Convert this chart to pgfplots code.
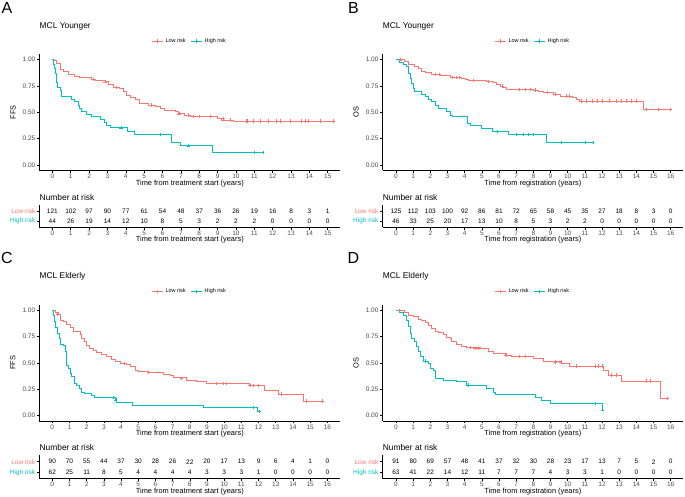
\documentclass[border=0pt]{standalone}
\usepackage{pgfplots}
\pgfplotsset{compat=1.18}
\usepackage{fontspec}
\setmainfont{Liberation Sans}
\definecolor{lowr}{HTML}{F8766D}
\definecolor{highr}{HTML}{00BFC4}
\definecolor{tickgray}{HTML}{4D4D4D}
\newcommand\fs[1]{\fontsize{#1}{#1}\selectfont}

\pgfplotsset{
  base/.style={scale only axis, anchor=south west,
    axis x line*=bottom, axis y line*=left,
    axis line style={line width=0.6pt},
    major tick style={line width=0.6pt, black},
    tick align=outside, major tick length=2.5pt,
    ticklabel style={font=\fs{6.5}, text=tickgray},
    /pgf/number format/assume math mode=true,
    xtick={0,...,16},
    xticklabel style={inner sep=1pt},
    yticklabel style={inner sep=1.5pt},
    xlabel style={font=\fs{7.4}, at={(axis description cs:0.5,0)}, anchor=center, yshift=-13pt},
    title style={font=\fs{8.4}, at={(axis description cs:0,1)}, anchor=west, inner sep=0pt},
  },
  km/.style={base, height=115.8pt, ymin=-0.05, ymax=1.05,
    ytick={0,0.25,0.5,0.75,1}, yticklabels={0.00,0.25,0.50,0.75,1.00},
    title style={yshift=22.5pt},
    ylabel style={font=\fs{7.4}, at={(axis description cs:-0.088,0.5)}, anchor=center},
    legend columns=2,
    legend style={draw=none, fill=none, font=\fs{5.5}, at={(axis description cs:0.5,1)},
      anchor=center, yshift=13.4pt, /tikz/every even column/.append style={column sep=3pt}},
    legend image code/.code={\draw[mark repeat=2,mark phase=2,##1] plot coordinates {(0pt,0pt) (5.5pt,0pt) (11pt,0pt)};},
  },
  risk/.style={base, ymin=0.4, ymax=2.6, ytick={1,2},
    yticklabels={\textcolor{highr}{High risk},\textcolor{lowr}{Low risk}},
    title={Number at risk}, title style={yshift=2.3pt},
    xlabel style={yshift=0.5pt},
  },
  step/.style={const plot, line width=0.9pt, mark=none},
  cens/.style={only marks, mark=+, mark size=1.6pt, line width=0.5pt},
  nar/.style={only marks, mark=none, point meta=explicit symbolic, nodes near coords,
    nodes near coords align={center},
    every node near coord/.append style={font=\fs{6.5}, text=black}},
  lowleg/.style={draw=lowr, color=lowr, line width=0.9pt, mark=+, mark size=1.6pt},
  highleg/.style={draw=highr, color=highr, line width=0.9pt, mark=+, mark size=1.6pt},
}

\begin{document}
\begin{tikzpicture}
\node[font=\fs{16}] at (7pt,487.7pt) {A};
\node[font=\fs{16}] at (353.5pt,487.7pt) {B};
\node[font=\fs{16}] at (7pt,238pt) {C};
\node[font=\fs{16}] at (353.5pt,238pt) {D};

% ---------------- A
\begin{axis}[km, at={(39.5pt,325.7pt)}, width=300.6pt, xmin=-0.7, xmax=15.67,
  title={MCL Younger}, xlabel={Time from treatment start (years)}, ylabel={FFS}]
\addlegendimage{lowleg}
\addlegendentry{Low risk}
\addlegendimage{highleg}
\addlegendentry{High risk}
\addplot[step, lowr, forget plot] coordinates {(0,1.0) (0.1,0.99) (0.24,0.965) (0.42,0.91) (0.6,0.886) (0.87,0.86) (1.23,0.845) (1.5,0.83) (2.14,0.816) (2.32,0.80) (2.87,0.79) (3.05,0.77) (3.32,0.737) (3.68,0.728) (3.87,0.696) (4.05,0.665) (4.23,0.64) (4.5,0.623) (4.77,0.585) (5.23,0.57) (5.59,0.554) (5.86,0.538) (6.13,0.519) (6.68,0.506) (6.86,0.487) (7.22,0.475) (7.5,0.459) (9.0,0.443) (9.22,0.427) (9.85,0.418) (15.31,0.418)};
\addplot[step, highr, forget plot] coordinates {(0,1.0) (0.05,0.96) (0.11,0.92) (0.15,0.87) (0.2,0.82) (0.25,0.78) (0.29,0.74) (0.42,0.71) (0.51,0.655) (1.05,0.623) (1.23,0.60) (1.42,0.57) (1.5,0.538) (1.6,0.506) (1.87,0.48) (2.14,0.459) (2.6,0.434) (2.83,0.40) (2.96,0.38) (3.14,0.354) (4.1,0.323) (4.46,0.29) (6.5,0.212) (6.95,0.183) (8.73,0.12) (11.46,0.12)};
\addplot[cens, lowr, forget plot] coordinates {(2.23,0.816) (2.87,0.79) (3.5,0.737) (5.4,0.57) (6.9,0.487) (7.4,0.475) (7.7,0.459) (8.0,0.459) (8.59,0.459) (9.31,0.443) (9.67,0.427) (10.55,0.418) (10.62,0.418) (10.95,0.418) (11.31,0.418) (11.76,0.418) (12.18,0.418) (12.4,0.418) (12.94,0.418) (13.58,0.418) (13.76,0.418) (13.94,0.418) (14.58,0.418) (15.31,0.418)};
\addplot[cens, highr, forget plot] coordinates {(3.74,0.354) (5.86,0.29) (7.4,0.183) (11.0,0.12) (11.46,0.12)};
\end{axis}
\begin{axis}[risk, at={(39.5pt,268.7pt)}, width=300.6pt, height=22pt, xmin=-0.7, xmax=15.67,
  xlabel={Time from treatment start (years)}]
\addplot[nar] coordinates {(0,2)[121] (1,2)[102] (2,2)[97] (3,2)[90] (4,2)[77] (5,2)[61] (6,2)[54] (7,2)[48] (8,2)[37] (9,2)[36] (10,2)[26] (11,2)[19] (12,2)[16] (13,2)[8] (14,2)[3] (15,2)[1]};
\addplot[nar] coordinates {(0,1)[44] (1,1)[26] (2,1)[19] (3,1)[14] (4,1)[12] (5,1)[10] (6,1)[8] (7,1)[5] (8,1)[3] (9,1)[2] (10,1)[2] (11,1)[2] (12,1)[0] (13,1)[0] (14,1)[0] (15,1)[0]};
\end{axis}

% ---------------- B
\begin{axis}[km, at={(382.6pt,325.7pt)}, width=300.5pt, xmin=-0.78, xmax=16.72,
  title={MCL Younger}, xlabel={Time from registration (years)}, ylabel={OS}]
\addlegendimage{lowleg}
\addlegendentry{Low risk}
\addlegendimage{highleg}
\addlegendentry{High risk}
\addplot[step, lowr, forget plot] coordinates {(0,1.0) (0.52,0.98) (0.72,0.956) (1.1,0.94) (1.3,0.918) (1.5,0.886) (1.69,0.877) (2.08,0.861) (2.56,0.854) (3.05,0.848) (3.15,0.832) (3.83,0.823) (4.02,0.813) (4.21,0.804) (5.28,0.797) (5.67,0.78) (5.86,0.766) (6.06,0.75) (6.25,0.734) (6.45,0.72) (8.0,0.712) (8.29,0.70) (8.58,0.69) (9.17,0.674) (9.55,0.655) (10.3,0.642) (10.5,0.623) (10.7,0.608) (14.4,0.53) (15.96,0.53)};
\addplot[step, highr, forget plot] coordinates {(0,1.0) (0.23,0.975) (0.43,0.956) (0.62,0.933) (0.72,0.87) (0.82,0.823) (0.91,0.775) (1.01,0.728) (1.1,0.696) (1.5,0.67) (1.69,0.649) (1.88,0.627) (2.08,0.60) (2.27,0.57) (2.47,0.538) (2.95,0.506) (3.15,0.475) (3.3,0.459) (4.14,0.396) (4.31,0.38) (4.99,0.348) (5.63,0.32) (6.54,0.29) (8.78,0.215) (11.46,0.215)};
\addplot[cens, lowr, forget plot] coordinates {(0.25,1.0) (2.3,0.861) (2.5,0.861) (3.3,0.832) (3.5,0.832) (3.7,0.832) (4.5,0.804) (5.4,0.797) (6.2,0.75) (7.2,0.72) (7.5,0.72) (7.8,0.72) (8.1,0.712) (8.8,0.69) (9.3,0.674) (9.9,0.655) (10.1,0.655) (10.8,0.608) (11.1,0.608) (11.4,0.608) (11.7,0.608) (12.0,0.608) (12.4,0.608) (12.8,0.608) (13.1,0.608) (13.4,0.608) (13.7,0.608) (14.0,0.608) (14.6,0.53) (15.3,0.53) (15.96,0.53)};
\addplot[cens, highr, forget plot] coordinates {(5.9,0.32) (7.0,0.29) (7.4,0.29) (7.7,0.29) (8.0,0.29) (9.65,0.215) (11.0,0.215) (11.46,0.215)};
\end{axis}
\begin{axis}[risk, at={(382.6pt,268.7pt)}, width=300.5pt, height=22pt, xmin=-0.78, xmax=16.72,
  xlabel={Time from registration (years)}]
\addplot[nar] coordinates {(0,2)[125] (1,2)[112] (2,2)[103] (3,2)[100] (4,2)[92] (5,2)[86] (6,2)[81] (7,2)[72] (8,2)[65] (9,2)[58] (10,2)[45] (11,2)[35] (12,2)[27] (13,2)[18] (14,2)[8] (15,2)[3] (16,2)[0]};
\addplot[nar] coordinates {(0,1)[46] (1,1)[33] (2,1)[25] (3,1)[20] (4,1)[17] (5,1)[13] (6,1)[10] (7,1)[8] (8,1)[5] (9,1)[3] (10,1)[2] (11,1)[2] (12,1)[0] (13,1)[0] (14,1)[0] (15,1)[0] (16,1)[0]};
\end{axis}

% ---------------- C
\begin{axis}[km, at={(39.4pt,75.1pt)}, width=300.8pt, xmin=-0.75, xmax=16.75,
  title={MCL Elderly}, xlabel={Time from treatment start (years)}, ylabel={FFS}]
\addlegendimage{lowleg}
\addlegendentry{Low risk}
\addlegendimage{highleg}
\addlegendentry{High risk}
\addplot[step, lowr, forget plot] coordinates {(0,1.0) (0.155,0.98) (0.35,0.962) (0.45,0.908) (0.64,0.892) (0.83,0.867) (1.03,0.835) (1.22,0.804) (1.61,0.772) (1.71,0.734) (1.86,0.703) (2.0,0.665) (2.19,0.639) (2.39,0.617) (2.58,0.60) (2.87,0.582) (3.16,0.56) (3.45,0.538) (3.65,0.519) (3.94,0.497) (4.33,0.487) (4.52,0.465) (4.81,0.434) (5.0,0.424) (5.59,0.411) (6.46,0.392) (6.85,0.38) (7.04,0.36) (7.82,0.339) (8.4,0.323) (8.98,0.307) (11.46,0.285) (12.37,0.244) (13.15,0.206) (14.64,0.139) (15.73,0.139)};
\addplot[step, highr, forget plot] coordinates {(0,1.0) (0.06,0.956) (0.12,0.89) (0.21,0.835) (0.31,0.78) (0.39,0.734) (0.48,0.677) (0.66,0.665) (0.74,0.608) (0.8,0.544) (0.83,0.48) (0.93,0.45) (1.03,0.40) (1.12,0.37) (1.28,0.307) (1.42,0.29) (1.57,0.26) (1.67,0.222) (1.86,0.212) (2.29,0.196) (2.44,0.171) (3.65,0.149) (3.74,0.123) (4.65,0.10) (8.82,0.079) (11.95,0.038) (12.04,0.038)};
\addplot[cens, lowr, forget plot] coordinates {(0.3,0.962) (4.2,0.497) (5.6,0.411) (7.5,0.354) (9.56,0.307) (9.95,0.307) (10.14,0.307) (11.5,0.285) (11.7,0.285) (12.0,0.285) (13.3,0.206) (14.8,0.139) (15.73,0.139)};
\addplot[cens, highr, forget plot] coordinates {(3.55,0.171) (3.7,0.149) (11.7,0.079) (12.04,0.038)};
\end{axis}
\begin{axis}[risk, at={(39.4pt,17.3pt)}, width=300.8pt, height=23.3pt, xmin=-0.75, xmax=16.75,
  xlabel={Time from treatment start (years)}]
\addplot[nar] coordinates {(0,2)[90] (1,2)[70] (2,2)[55] (3,2)[44] (4,2)[37] (5,2)[30] (6,2)[28] (7,2)[26] (8,2)[22] (9,2)[20] (10,2)[17] (11,2)[13] (12,2)[9] (13,2)[6] (14,2)[4] (15,2)[1] (16,2)[0]};
\addplot[nar] coordinates {(0,1)[62] (1,1)[25] (2,1)[11] (3,1)[8] (4,1)[5] (5,1)[4] (6,1)[4] (7,1)[4] (8,1)[4] (9,1)[3] (10,1)[3] (11,1)[3] (12,1)[1] (13,1)[0] (14,1)[0] (15,1)[0] (16,1)[0]};
\end{axis}

% ---------------- D
\begin{axis}[km, at={(382.6pt,75.1pt)}, width=300.5pt, xmin=-0.78, xmax=16.72,
  title={MCL Elderly}, xlabel={Time from registration (years)}, ylabel={OS}]
\addlegendimage{lowleg}
\addlegendentry{Low risk}
\addlegendimage{highleg}
\addlegendentry{High risk}
\addplot[step, lowr, forget plot] coordinates {(0,1.0) (0.52,0.98) (0.72,0.956) (1.0,0.94) (1.3,0.918) (1.5,0.9) (1.69,0.886) (1.88,0.854) (2.08,0.829) (2.27,0.804) (2.47,0.788) (2.76,0.772) (2.95,0.744) (3.15,0.734) (3.24,0.703) (3.53,0.68) (3.83,0.655) (4.12,0.646) (4.89,0.639) (5.38,0.608) (5.67,0.592) (6.35,0.576) (6.74,0.56) (8.0,0.544) (8.58,0.51) (9.65,0.497) (10.13,0.472) (12.07,0.434) (12.4,0.386) (13.14,0.329) (15.38,0.165) (15.8,0.165)};
\addplot[step, highr, forget plot] coordinates {(0,1.0) (0.23,0.98) (0.43,0.956) (0.58,0.908) (0.72,0.845) (0.82,0.78) (0.91,0.734) (1.05,0.703) (1.17,0.655) (1.3,0.608) (1.44,0.56) (1.59,0.519) (1.88,0.497) (1.98,0.45) (2.17,0.434) (2.27,0.354) (2.76,0.339) (3.53,0.323) (4.12,0.291) (5.28,0.26) (5.67,0.222) (5.77,0.203) (8.15,0.171) (8.48,0.149) (9.0,0.117) (12.04,0.055) (12.04,0.055)};
\addplot[cens, lowr, forget plot] coordinates {(0.2,1.0) (4.3,0.646) (4.6,0.639) (4.8,0.639) (6.4,0.576) (7.2,0.56) (7.5,0.56) (9.3,0.51) (9.6,0.51) (10.5,0.472) (11.6,0.472) (11.8,0.472) (12.0,0.472) (12.55,0.386) (12.85,0.386) (14.6,0.329) (14.8,0.329) (15.8,0.165)};
\addplot[cens, highr, forget plot] coordinates {(1.7,0.519) (4.2,0.291) (11.6,0.117) (12.04,0.055)};
\end{axis}
\begin{axis}[risk, at={(382.6pt,17.3pt)}, width=300.5pt, height=23.3pt, xmin=-0.78, xmax=16.72,
  xlabel={Time from registration (years)}]
\addplot[nar] coordinates {(0,2)[91] (1,2)[80] (2,2)[69] (3,2)[57] (4,2)[48] (5,2)[41] (6,2)[37] (7,2)[32] (8,2)[30] (9,2)[28] (10,2)[23] (11,2)[17] (12,2)[13] (13,2)[7] (14,2)[5] (15,2)[2] (16,2)[0]};
\addplot[nar] coordinates {(0,1)[63] (1,1)[41] (2,1)[22] (3,1)[14] (4,1)[12] (5,1)[11] (6,1)[7] (7,1)[7] (8,1)[7] (9,1)[4] (10,1)[3] (11,1)[3] (12,1)[1] (13,1)[0] (14,1)[0] (15,1)[0] (16,1)[0]};
\end{axis}
\pgfresetboundingbox
\path (0pt,0pt) rectangle (685pt,496pt);
\end{tikzpicture}
\end{document}
